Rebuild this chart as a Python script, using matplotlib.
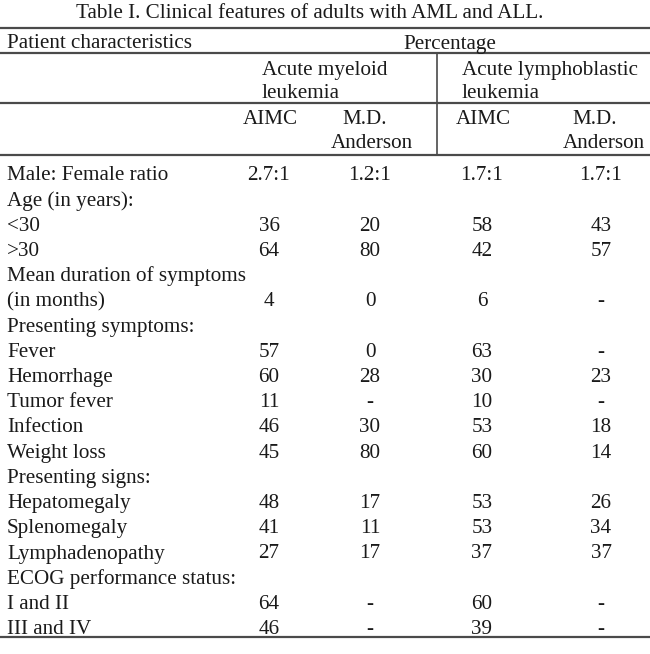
import matplotlib
matplotlib.use("Agg")
import matplotlib.pyplot as plt

title = "Table I. Clinical features of adults with AML and ALL."
row_labels = ["Male: Female ratio", "Age (in years):", "<30", ">30",
              "Mean duration of symptoms", "(in months)", "Presenting symptoms:",
              "Fever", "Hemorrhage", "Tumor fever", "Infection", "Weight loss",
              "Presenting signs:", "Hepatomegaly", "Splenomegaly", "Lymphadenopathy",
              "ECOG performance status:", "I and II", "III and IV"]
aml_aimc = ["2.7:1", "", "36", "64", "", "4", "", "57", "60", "11", "46", "45",
            "", "48", "41", "27", "", "64", "46"]
aml_mda = ["1.2:1", "", "20", "80", "", "0", "", "0", "28", "-", "30", "80",
           "", "17", "11", "17", "", "-", "-"]
all_aimc = ["1.7:1", "", "58", "42", "", "6", "", "63", "30", "10", "53", "60",
            "", "53", "53", "37", "", "60", "39"]
all_mda = ["1.7:1", "", "43", "57", "", "-", "", "-", "23", "-", "18", "14",
           "", "26", "34", "37", "", "-", "-"]

W, H = 650, 654
fig = plt.figure(figsize=(W / 100, H / 100), dpi=100)
ax = fig.add_axes([0, 0, 1, 1])
ax.set_xlim(0, W)
ax.set_ylim(H, 0)
ax.axis("off")

FONT = "Liberation Serif"
FS = 15.2
TC = "#1a1a1a"
LC = "#4a4a4a"
OFF = 6.5  # baseline offset from visual centre

def txt(x, y, s, ha="left", **kw):
    ax.text(x, y + OFF, s, ha=ha, va="baseline", fontsize=FS, family=FONT,
            color=TC, **kw)

# title
txt(310, 12, title, ha="center")

# rules
for y in [28, 53, 103, 155, 637]:
    ax.plot([0, W], [y, y], color=LC, lw=1.6, solid_capstyle="butt")
ax.plot([436.5, 436.5], [53, 155], color=LC, lw=1.2)

# header
txt(7, 42, "Patient characteristics")
txt(450, 42, "Percentage", ha="center")
txt(262, 68, "Acute myeloid")
txt(262, 91, "leukemia")
txt(462, 68, "Acute lymphoblastic")
txt(462, 91, "leukemia")

col_x = [269, 370, 482, 601]
txt(270, 118, "AIMC", ha="center")
txt(483, 118, "AIMC", ha="center")
txt(365, 118, "M.D.", ha="center")
txt(413, 142, "Anderson", ha="right")
txt(595, 118, "M.D.", ha="center")
txt(645, 142, "Anderson", ha="right")

# body
y0, dy = 174, 25.2
cols = [aml_aimc, aml_mda, all_aimc, all_mda]
for i, lab in enumerate(row_labels):
    y = y0 + i * dy
    txt(7, y, lab)
    for cx, col in zip(col_x, cols):
        if col[i]:
            txt(cx, y, col[i], ha="center")

fig.savefig("out.png", dpi=100, facecolor="white")
